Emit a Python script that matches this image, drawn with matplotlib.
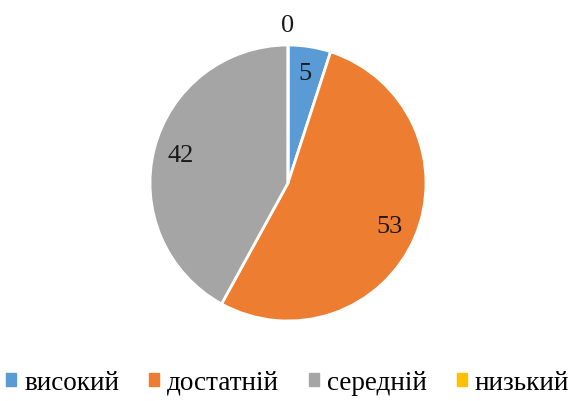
import matplotlib.pyplot as plt
import matplotlib.patches as mpatches
import numpy as np

# Data
categories = ['високий', 'достатній', 'середній', 'низький']
values = [5, 53, 42, 0]
colors = ['#5B9BD5', '#ED7D31', '#A5A5A5', '#FFC000']

plt.rcParams['font.family'] = ['Liberation Serif', 'DejaVu Serif']

fig = plt.figure(figsize=(5.79, 4.01), dpi=100)
ax = fig.add_axes([150 / 579, 80 / 401, 276 / 579, 276 / 401])

wedges, _ = ax.pie(values, colors=colors, startangle=90, counterclock=False,
                   radius=1.0, wedgeprops=dict(edgecolor='white', linewidth=2))
ax.set_xlim(-1, 1)
ax.set_ylim(-1, 1)
ax.set_aspect('equal')

# Value labels (inside for non-zero slices, outside for the empty one)
for w, v in zip(wedges, values):
    theta = np.deg2rad((w.theta1 + w.theta2) / 2)
    r = 0.8 if v > 0 else 1.14
    ax.text(r * np.cos(theta), r * np.sin(theta), str(v), ha='center',
            va='center', fontsize=19, color='#1a1a1a', clip_on=False)

handles = [mpatches.Patch(color=c, label=l) for c, l in zip(colors, categories)]
fig.legend(handles=handles, loc='center', bbox_to_anchor=(0.497, 1 - 383 / 401),
           ncol=4, frameon=False, fontsize=19.5, handlelength=0.37,
           handleheight=0.37, handletextpad=0.3, columnspacing=1.1,
           borderaxespad=0, borderpad=0)

fig.savefig('out.png', dpi=100, facecolor='white')
